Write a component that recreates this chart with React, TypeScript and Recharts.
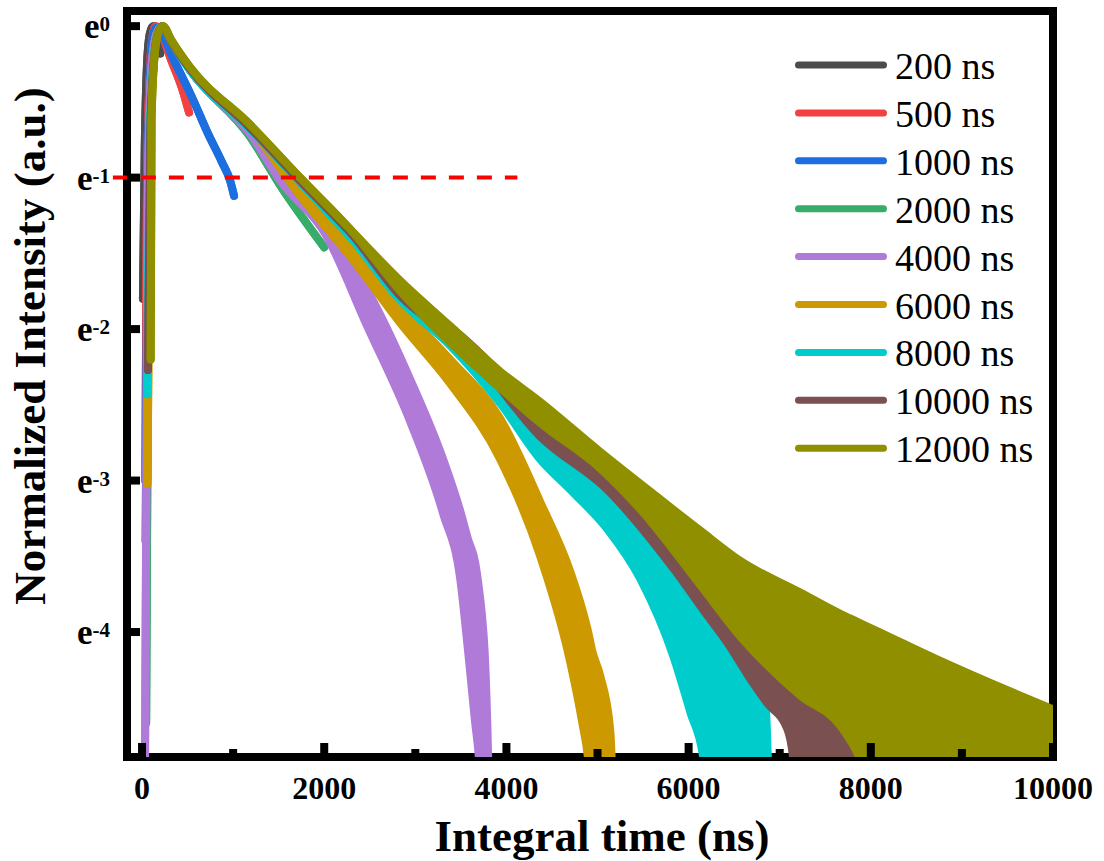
import {
  ComposedChart,
  Area,
  XAxis,
  YAxis,
  ReferenceLine,
  ReferenceArea,
  Legend,
  Label,
} from 'recharts'

// each point: [time (ns), ln I lower edge, ln I upper edge] of the noisy band
type Pt = [number, number, number]

const gateLabels = ['200 ns', '500 ns', '1000 ns', '2000 ns', '4000 ns', '6000 ns', '8000 ns', '10000 ns', '12000 ns']
const gateColors = ['#4c4c4c', '#f24141', '#1d6fe0', '#37ac6b', '#b07ad9', '#cc9900', '#00cccc', '#7b5050', '#8f8f00']

const decay200: Pt[] = [
  [10, -1.8, -1.8], [30, -0.8, -0.8], [55, -0.25, -0.25], [85, -0.05, -0.05],
  [120, 0, 0], [170, -0.02, -0.02], [200, -0.18, -0.18],
]
const decay500: Pt[] = [
  [35, -3.0, -3.0], [55, -1.0, -1.0], [90, -0.25, -0.25], [120, -0.05, -0.05],
  [150, 0, 0], [330, -0.24, -0.24], [439, -0.41, -0.41], [516, -0.57, -0.57],
]
const decay1000: Pt[] = [
  [40, -3.4, -3.4], [62, -1.0, -1.0], [95, -0.25, -0.25], [125, -0.05, -0.05],
  [160, -0.01, -0.01], [362, -0.24, -0.24], [549, -0.47, -0.47], [725, -0.71, -0.71],
  [879, -0.9, -0.9], [967, -1.02, -1.02], [1010, -1.12, -1.12],
]
const decay2000: Pt[] = [
  [45, -4.6, -4.6], [75, -1.0, -1.0], [110, -0.3, -0.3], [160, -0.05, -0.05],
  [220, 0, 0], [320, -0.1, -0.1], [527, -0.29, -0.29], [1186, -0.73, -0.73],
  [1516, -1.05, -1.05], [2000, -1.46, -1.46],
]
const decay4000: Pt[] = [
  [30, -5.2, -5.2], [62, -1.2, -1.2], [100, -0.3, -0.3], [160, -0.05, -0.05],
  [220, 0, 0], [320, -0.1, -0.1], [527, -0.29, -0.29], [1186, -0.71, -0.71],
  [1516, -1.02, -0.98], [2010, -1.37, -1.33], [2471, -1.98, -1.74], [2943, -2.61, -2.33],
  [3306, -3.22, -2.86], [3493, -3.65, -3.2], [3580, -4.13, -3.39], [3657, -4.6, -3.54],
  [3700, -4.85, -3.72], [3730, -5.2, -3.88], [3760, -5.2, -4.12], [3790, -5.2, -4.6],
  [3815, -5.2, -5.2],
]
const decay6000: Pt[] = [
  [60, -3.02, -3.02], [90, -0.7, -0.7], [125, -0.25, -0.25], [165, -0.06, -0.06],
  [220, 0, 0], [320, -0.1, -0.1], [527, -0.28, -0.28], [1186, -0.67, -0.67],
  [1735, -1.12, -1.04], [2284, -1.52, -1.44], [2834, -1.96, -1.85], [3383, -2.36, -2.2],
  [3932, -2.86, -2.59], [4371, -3.5, -3.14], [4701, -4.2, -3.6], [4833, -4.6, -3.85],
  [4898, -4.85, -4.0], [4940, -5.2, -4.12], [5030, -5.2, -4.29], [5140, -5.2, -4.65],
  [5175, -5.2, -5.2],
]
const decay8000: Pt[] = [
  [55, -2.43, -2.43], [88, -0.7, -0.7], [125, -0.25, -0.25], [165, -0.06, -0.06],
  [220, 0, 0], [320, -0.1, -0.1], [527, -0.29, -0.29], [1186, -0.68, -0.68],
  [1735, -1.03, -1.03], [2284, -1.39, -1.39], [2834, -1.81, -1.76], [3383, -2.11, -2.05],
  [3932, -2.49, -2.34], [4371, -2.86, -2.56], [4734, -3.08, -2.74], [5107, -3.32, -2.92],
  [5470, -3.65, -3.1], [5832, -4.16, -3.27], [6019, -4.53, -3.36], [6161, -4.83, -3.45],
  [6200, -5.2, -3.5], [6425, -5.2, -3.62], [6711, -5.2, -4.05], [6843, -5.2, -4.45],
  [6887, -5.2, -5.2],
]
const decay10000: Pt[] = [
  [65, -2.27, -2.27], [92, -0.7, -0.7], [128, -0.25, -0.25], [168, -0.06, -0.06],
  [222, 0, 0], [320, -0.1, -0.1], [527, -0.28, -0.28], [1186, -0.67, -0.67],
  [1735, -1.02, -1.02], [2284, -1.36, -1.36], [2834, -1.78, -1.72], [3569, -2.13, -2.08],
  [4371, -2.71, -2.55], [5107, -3.06, -2.92], [5832, -3.58, -3.26], [6205, -3.89, -3.44],
  [6425, -4.07, -3.54], [6711, -4.34, -3.68], [6864, -4.47, -3.75], [7084, -4.64, -3.78],
  [7150, -4.85, -3.8], [7190, -5.2, -3.82], [7556, -5.2, -3.95], [7886, -5.2, -5.2],
]
const decay12000: Pt[] = [
  [95, -2.2, -2.2], [105, -0.6, -0.6], [140, -0.18, -0.18], [180, -0.04, -0.04],
  [231, 0, 0], [320, -0.09, -0.09], [527, -0.27, -0.27], [1186, -0.65, -0.65],
  [1735, -1.0, -1.0], [2284, -1.34, -1.34], [2834, -1.75, -1.68], [3383, -2.09, -1.98],
  [3932, -2.39, -2.28], [4371, -2.62, -2.48], [5030, -2.92, -2.81], [5470, -3.19, -3.02],
  [6128, -3.69, -3.33], [6568, -4.03, -3.53], [7227, -4.42, -3.74], [7666, -4.62, -3.88],
  [7853, -4.8, -3.933], [8100, -5.2, -4.003], [8325, -5.2, -4.066], [8765, -5.2, -4.19],
  [9423, -5.2, -4.364], [10000, -5.2, -4.51],
]

const decays = [decay200, decay500, decay1000, decay2000, decay4000, decay6000, decay8000, decay10000, decay12000]

const xTicks = [0, 1000, 2000, 3000, 4000, 5000, 6000, 7000, 8000, 9000, 10000]
const xLabelEvery = 2000
const yTicks = [0, -1, -2, -3, -4]
const yTickExps = ['0', '-1', '-2', '-3', '-4']
const lifetimeLevel = -1 // e^-1 marker

const SERIF = 'Liberation Serif, Times New Roman, serif'
const X_MIN = -165
const X_MAX = 10000
const Y_MIN = -4.825
const Y_MAX = 0.1

const toRows = (pts: Pt[]) => pts.map(([t, lo, hi]) => ({ t, v: [lo, hi] }))

function XTick({ x, y, payload }: any) {
  const v = payload.value as number
  const major = v % xLabelEvery === 0
  return (
    <g>
      <rect x={x - 4} y={major ? y - 14 : y - 8} width={8} height={major ? 14 : 8} fill="#000" />
      {major && (
        <text x={x} y={y + 42} textAnchor="middle" fontSize={32} fontWeight="bold" fontFamily={SERIF} fill="#000">
          {v}
        </text>
      )}
    </g>
  )
}

function YTick({ x, y, payload }: any) {
  const i = yTicks.indexOf(payload.value)
  return (
    <g>
      <rect x={x} y={y - 4} width={13} height={8} fill="#000" />
      <text x={x - 17} y={y + 12} textAnchor="end" fontSize={35} fontWeight="bold" fontFamily={SERIF} fill="#000">
        e
        <tspan fontSize={21} dy={-7}>
          {yTickExps[i]}
        </tspan>
      </text>
    </g>
  )
}

function LegendBox() {
  return (
    <svg width={270} height={450} style={{ fontFamily: SERIF }}>
      {gateLabels.map((lab, i) => {
        const cy = 35 + i * 47.9
        return (
          <g key={lab}>
            <line x1={8.5} x2={93.5} y1={cy} y2={cy} stroke={gateColors[i]} strokeWidth={7} strokeLinecap="round" />
            <text x={105} y={cy + 14} fontSize={38} fontFamily={SERIF} fill="#000">
              {lab}
            </text>
          </g>
        )
      })}
    </svg>
  )
}

export default function App() {
  return (
    <div style={{ position: 'absolute', left: 0, top: 0, width: 1104, height: 861, background: '#fff' }}>
      <ComposedChart width={1104} height={861} margin={{ top: 11, right: 51, left: 0, bottom: 0 }}>
        <XAxis
          type="number"
          dataKey="t"
          domain={[X_MIN, X_MAX]}
          allowDataOverflow
          ticks={xTicks}
          interval={0}
          height={104}
          axisLine={false}
          tickLine={false}
          tickSize={0}
          tickMargin={0}
          tick={<XTick />}
        >
          <Label
            content={() => (
              <text x={602} y={851} textAnchor="middle" fontSize={45} fontWeight="bold" fontFamily={SERIF} fill="#000">
                Integral time (ns)
              </text>
            )}
          />
        </XAxis>
        <YAxis
          type="number"
          domain={[Y_MIN, Y_MAX]}
          allowDataOverflow
          ticks={yTicks}
          interval={0}
          width={127}
          axisLine={false}
          tickLine={false}
          tickSize={0}
          tickMargin={0}
          tick={<YTick />}
        >
          <Label
            content={() => (
              <text
                x={45}
                y={346}
                transform="rotate(-90, 45, 346)"
                textAnchor="middle"
                fontSize={45}
                fontWeight="bold"
                fontFamily={SERIF}
                fill="#000"
              >
                Normalized Intensity (a.u.)
              </text>
            )}
          />
        </YAxis>
        <ReferenceArea
          x1={X_MIN}
          x2={X_MAX}
          y1={Y_MIN}
          y2={Y_MAX}
          fill="none"
          stroke="#000"
          strokeWidth={8}
          ifOverflow="visible"
        />
        {decays.map((pts, i) => (
          <Area
            key={gateLabels[i]}
            data={toRows(pts)}
            dataKey="v"
            type="monotone"
            stroke={gateColors[i]}
            strokeWidth={8}
            strokeLinejoin="round"
            strokeLinecap="round"
            fill={gateColors[i]}
            fillOpacity={1}
            dot={false}
            activeDot={false}
            isAnimationActive={false}
          />
        ))}
        <ReferenceLine
          segment={[
            { x: -320, y: lifetimeLevel },
            { x: 4120, y: lifetimeLevel },
          ]}
          stroke="#ff0000"
          strokeWidth={4}
          strokeDasharray="15 13"
          ifOverflow="visible"
        />
        <Legend
          layout="vertical"
          align="center"
          verticalAlign="middle"
          content={() => <LegendBox />}
          wrapperStyle={{ left: 790, top: 30, width: 270, height: 450 }}
        />
      </ComposedChart>
    </div>
  )
}
